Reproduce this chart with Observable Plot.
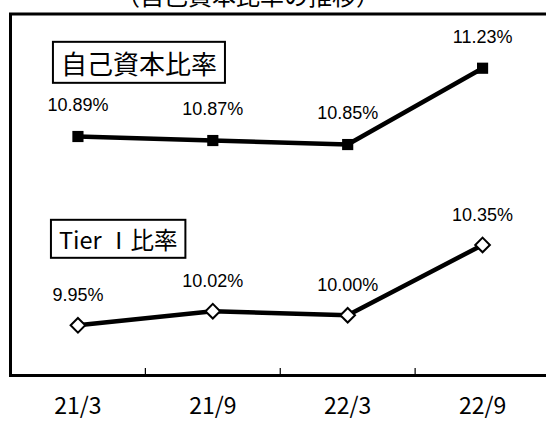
<!DOCTYPE html>
<html>
<head>
<meta charset="utf-8">
<script src="https://cdn.jsdelivr.net/npm/d3@7"></script>
<script src="https://cdn.jsdelivr.net/npm/@observablehq/plot@0.6"></script>
<style>
  html, body { margin: 0; padding: 0; background: #fff; overflow: hidden; }
  #wrap { position: relative; width: 546px; height: 421px; overflow: hidden; background: #fff; }
  #title {
    position: absolute; left: 0; top: -17px; width: 496px; text-align: center; z-index: 2;
    font-family: "Noto Sans CJK JP", sans-serif; font-size: 24px; line-height: 24px;
    color: #000; white-space: nowrap;
  }
  #chart { position: absolute; left: 0; top: 0; z-index: 1; }
</style>
</head>
<body>
<div id="wrap">
  <div id="title">（自己資本比率の推移）</div>
  <div id="chart"></div>
</div>
<script>
// Reporting periods (fiscal year / month)
const periods = ["21/3", "21/9", "22/3", "22/9"];
// Capital adequacy ratio (%)
const capitalRatio = [10.89, 10.87, 10.85, 11.23];
// Tier I ratio (%)
const tier1Ratio = [9.95, 10.02, 10.00, 10.35];
// Series names shown in the boxed labels
const seriesNames = ["自己資本比率", "Tier Ⅰ比率"];

const capitalRows = periods.map((p, i) => ({series: seriesNames[0], period: p, value: capitalRatio[i]}));
const tierRows = periods.map((p, i) => ({series: seriesNames[1], period: p, value: tier1Ratio[i]}));

// periods sit at the centre of equal-width slots on a 0..n axis
const xPos = (d) => periods.indexOf(d.period) + 0.5;
const boundaries = d3.range(1, periods.length);
const centers = periods.map((_, i) => i + 0.5);

const valueLabel = (d) => d.value.toFixed(2) + "%";
const numFont = "'Liberation Sans', Arial, sans-serif";
const jpFont = "'Noto Sans CJK JP', sans-serif";

const chart = Plot.plot({
  width: 560,
  height: 421,
  marginTop: 13.5,
  marginBottom: 46,
  marginLeft: 10,
  marginRight: 10.5,
  style: {maxWidth: "none", background: "transparent", color: "black", overflow: "visible"},
  x: {type: "linear", domain: [0, periods.length]},
  y: {domain: [9.7, 11.5], axis: null},
  marks: [
    Plot.frame({stroke: "black", strokeWidth: 3}),
    // boundary ticks pointing up into the plot
    Plot.axisX(boundaries, {tickSize: -7, tickFormat: () => "", strokeWidth: 1.2}),
    // period labels under each slot
    Plot.axisX(centers, {
      tickSize: 0, tickPadding: 22,
      tickFormat: (v) => periods[Math.round(v - 0.5)],
      fontSize: 23, fontFamily: jpFont
    }),
    Plot.line(capitalRows, {x: xPos, y: "value", stroke: "black", strokeWidth: 4.5}),
    Plot.line(tierRows, {x: xPos, y: "value", stroke: "black", strokeWidth: 4.5}),
    Plot.dot(capitalRows, {x: xPos, y: "value", symbol: "square", r: 6.3, fill: "black", stroke: "none"}),
    Plot.dot(tierRows, {x: xPos, y: "value", symbol: "diamond2", r: 6.6, fill: "white", stroke: "black", strokeWidth: 2}),
    Plot.text(capitalRows, {x: xPos, y: "value", text: valueLabel, dy: -31, fontSize: 18, fontFamily: numFont}),
    Plot.text(tierRows, {x: xPos, y: "value", text: valueLabel, dy: -30, fontSize: 18, fontFamily: numFont}),
    // series names, boxed below
    Plot.text(capitalRows.slice(0, 1), {
      x: xPos, y: "value", text: "series", dx: -17, dy: -71, textAnchor: "start",
      fontSize: 26, fontFamily: jpFont, className: "series-name"
    }),
    Plot.text(tierRows.slice(0, 1), {
      x: xPos, y: "value", text: "series", dx: -19, dy: -84, textAnchor: "start",
      fontSize: 23.5, fontFamily: jpFont, className: "series-name"
    })
  ]
});

document.getElementById("chart").append(chart);

// draw a white box with a black border behind each series name
const padX = 8, padY = 2;
const names = new Set(seriesNames);
chart.querySelectorAll("text").forEach((t) => {
  if (!names.has(t.textContent)) return;
  const b = t.getBBox();
  const rect = document.createElementNS("http://www.w3.org/2000/svg", "rect");
  rect.setAttribute("x", b.x - padX);
  rect.setAttribute("y", b.y - padY);
  rect.setAttribute("width", b.width + 2 * padX);
  rect.setAttribute("height", b.height + 2 * padY);
  if (t.getAttribute("transform")) rect.setAttribute("transform", t.getAttribute("transform"));
  rect.setAttribute("fill", "white");
  rect.setAttribute("stroke", "black");
  rect.setAttribute("stroke-width", 2);
  t.parentNode.insertBefore(rect, t);
});
</script>
</body>
</html>
